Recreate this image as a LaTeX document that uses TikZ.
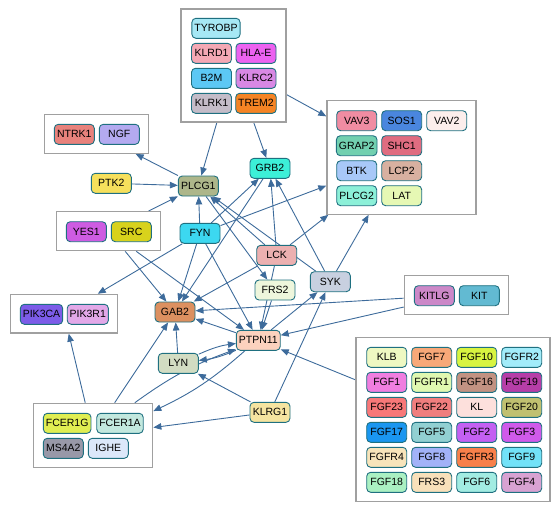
\documentclass[tikz,border=0pt]{standalone}
\usepackage{fontspec}
\setmainfont{Liberation Sans}
\usetikzlibrary{arrows.meta}
\pgfdeclarelayer{bg}
\pgfsetlayers{bg,main}
\definecolor{cEdge}{HTML}{3D6B9B}
\definecolor{cBorder}{HTML}{1F7080}
\definecolor{cGrp}{HTML}{A0A0A0}
\definecolor{cTYROBP}{HTML}{A6E8F5}
\definecolor{cKLRD1}{HTML}{F4A8B4}
\definecolor{cHLAE}{HTML}{EC62F0}
\definecolor{cB2M}{HTML}{5CC8F4}
\definecolor{cKLRC2}{HTML}{D888E4}
\definecolor{cKLRK1}{HTML}{C4BCC8}
\definecolor{cTREM2}{HTML}{F58424}
\definecolor{cNTRK1}{HTML}{E8827C}
\definecolor{cNGF}{HTML}{B4AAF0}
\definecolor{cPTK2}{HTML}{F6E05C}
\definecolor{cPLCG1}{HTML}{ADB68A}
\definecolor{cYES1}{HTML}{CE5CE2}
\definecolor{cSRC}{HTML}{D8D21C}
\definecolor{cFYN}{HTML}{3CD8F0}
\definecolor{cGRB2}{HTML}{3CF0D8}
\definecolor{cVAV3}{HTML}{F08CA2}
\definecolor{cSOS1}{HTML}{4A86DE}
\definecolor{cVAV2}{HTML}{FCEEEC}
\definecolor{cGRAP2}{HTML}{72D0B0}
\definecolor{cSHC1}{HTML}{E06C80}
\definecolor{cBTK}{HTML}{A8C8F8}
\definecolor{cLCP2}{HTML}{D8B0A0}
\definecolor{cPLCG2}{HTML}{8CF0D8}
\definecolor{cLAT}{HTML}{E6F8B4}
\definecolor{cLCK}{HTML}{ECB0B0}
\definecolor{cSYK}{HTML}{C8D0E0}
\definecolor{cFRS2}{HTML}{EEF6DC}
\definecolor{cKITLG}{HTML}{CC88C8}
\definecolor{cKIT}{HTML}{62BAD2}
\definecolor{cGAB2}{HTML}{DC9060}
\definecolor{cPTPN11}{HTML}{FCD2BE}
\definecolor{cLYN}{HTML}{D2DCC2}
\definecolor{cKLRG1}{HTML}{F5E4A0}
\definecolor{cPIK3CA}{HTML}{7C5CE8}
\definecolor{cPIK3R1}{HTML}{E2A8E8}
\definecolor{cFCER1G}{HTML}{E0EE52}
\definecolor{cFCER1A}{HTML}{C2E8DE}
\definecolor{cMS4A2}{HTML}{9898A8}
\definecolor{cIGHE}{HTML}{DCE8FA}
\definecolor{cKLB}{HTML}{EEF8C2}
\definecolor{cFGF7}{HTML}{F8A878}
\definecolor{cFGF10}{HTML}{D8F440}
\definecolor{cFGFR2}{HTML}{A2ECFA}
\definecolor{cFGF1}{HTML}{F07EE0}
\definecolor{cFGFR1}{HTML}{E0F8B0}
\definecolor{cFGF16}{HTML}{C29282}
\definecolor{cFGF19}{HTML}{B63EA8}
\definecolor{cFGF23}{HTML}{F87878}
\definecolor{cFGF22}{HTML}{F07E7E}
\definecolor{cKL}{HTML}{FDE0DC}
\definecolor{cFGF20}{HTML}{C0C070}
\definecolor{cFGF17}{HTML}{1A96F0}
\definecolor{cFGF5}{HTML}{92D0D2}
\definecolor{cFGF2}{HTML}{C460F2}
\definecolor{cFGF3}{HTML}{D05AEA}
\definecolor{cFGFR4}{HTML}{F8E4BA}
\definecolor{cFGF8}{HTML}{A2B2F8}
\definecolor{cFGFR3}{HTML}{F8804A}
\definecolor{cFGF9}{HTML}{72E2F8}
\definecolor{cFGF18}{HTML}{AAF0C2}
\definecolor{cFRS3}{HTML}{F8E0BA}
\definecolor{cFGF6}{HTML}{A2ECE2}
\definecolor{cFGF4}{HTML}{D8A2D2}
\begin{document}
\begin{tikzpicture}[x=1pt,y=-1pt,
gene/.style={rectangle,rounded corners=4pt,draw=cBorder,line width=0.9pt,
minimum width=40pt,minimum height=20pt,inner xsep=2.5pt,inner ysep=0pt,
font=\fontsize{10.5}{12}\selectfont},
grp/.style={rectangle,draw=cGrp,line width=1.2pt,fill=white},
edge/.style={draw=cEdge,line width=0.9pt,-{Triangle[length=8pt,width=6.5pt]}}]
\useasboundingbox (0,0) rectangle (556,509);
\node[grp,minimum width=105pt,minimum height=113pt](gtyrobp) at (233.5,65.5) {};
\node[grp,minimum width=104pt,minimum height=39pt](gntrk) at (96.5,133.8) {};
\node[grp,minimum width=104pt,minimum height=39pt](gsrc) at (108.7,231.2) {};
\node[grp,minimum width=149pt,minimum height=113.5pt](gvav) at (401.4,157.5) {};
\node[grp,minimum width=104pt,minimum height=38.5pt](gkit) at (456.3,295) {};
\node[grp,minimum width=106.5pt,minimum height=38.7pt](gpik) at (64,313.7) {};
\node[grp,minimum width=119.5pt,minimum height=64pt](gfcer) at (93,435.3) {};
\node[grp,minimum width=194pt,minimum height=164.5pt](gfgf) at (453,419.5) {};
\node[gene,fill=cTYROBP](tyrobp) at (216,28.3) {TYROBP};
\node[gene,fill=cKLRD1](klrd1) at (211.5,53.3) {KLRD1};
\node[gene,fill=cHLAE](hlae) at (256,53.3) {HLA-E};
\node[gene,fill=cB2M](b2m) at (211.5,78.3) {B2M};
\node[gene,fill=cKLRC2](klrc2) at (256,78.3) {KLRC2};
\node[gene,fill=cKLRK1](klrk1) at (211.5,103.3) {KLRK1};
\node[gene,fill=cTREM2](trem2) at (256,103.3) {TREM2};
\node[gene,fill=cNTRK1](ntrk1) at (74.3,134.3) {NTRK1};
\node[gene,fill=cNGF](ngf) at (119.3,134.3) {NGF};
\node[gene,fill=cPTK2](ptk2) at (111.3,183.3) {PTK2};
\node[gene,fill=cPLCG1](plcg1) at (198.3,186) {PLCG1};
\node[gene,fill=cYES1](yes1) at (86.3,231.7) {YES1};
\node[gene,fill=cSRC](src) at (131.3,231.7) {SRC};
\node[gene,fill=cFYN](fyn) at (200,233.3) {FYN};
\node[gene,fill=cGRB2](grb2) at (270,168.3) {GRB2};
\node[gene,fill=cVAV3](vav3) at (356.7,120.7) {VAV3};
\node[gene,fill=cSOS1](sos1) at (401.7,120.7) {SOS1};
\node[gene,fill=cVAV2](vav2) at (446.7,120.7) {VAV2};
\node[gene,fill=cGRAP2](grap2) at (356.7,145.7) {GRAP2};
\node[gene,fill=cSHC1](shc1) at (401.7,145.7) {SHC1};
\node[gene,fill=cBTK](btk) at (356.7,170.7) {BTK};
\node[gene,fill=cLCP2](lcp2) at (401.7,170.7) {LCP2};
\node[gene,fill=cPLCG2](plcg2) at (356.7,195.7) {PLCG2};
\node[gene,fill=cLAT](lat) at (401.7,195.7) {LAT};
\node[gene,fill=cLCK](lck) at (276.7,255.3) {LCK};
\node[gene,fill=cSYK](syk) at (330.3,281.7) {SYK};
\node[gene,fill=cFRS2](frs2) at (275,290) {FRS2};
\node[gene,fill=cKITLG](kitlg) at (434.3,295.7) {KITLG};
\node[gene,fill=cKIT](kit) at (479.3,295.7) {KIT};
\node[gene,fill=cGAB2](gab2) at (175,312) {GAB2};
\node[gene,fill=cPTPN11](ptpn11) at (258.3,340.3) {PTPN11};
\node[gene,fill=cLYN](lyn) at (178.3,363.3) {LYN};
\node[gene,fill=cKLRG1](klrg1) at (270,412.3) {KLRG1};
\node[gene,fill=cPIK3CA](pik3ca) at (41.5,314.3) {PIK3CA};
\node[gene,fill=cPIK3R1](pik3r1) at (87.8,314.3) {PIK3R1};
\node[gene,fill=cFCER1G](fcer1g) at (67.2,423.3) {FCER1G};
\node[gene,fill=cFCER1A](fcer1a) at (120,423.3) {FCER1A};
\node[gene,fill=cMS4A2](ms4a2) at (63.3,448.3) {MS4A2};
\node[gene,fill=cIGHE](ighe) at (108.3,448.3) {IGHE};
\node[gene,fill=cKLB](klb) at (386.7,357.3) {KLB};
\node[gene,fill=cFGF7](fgf7) at (431.7,357.3) {FGF7};
\node[gene,fill=cFGF10](fgf10) at (476.7,357.3) {FGF10};
\node[gene,fill=cFGFR2](fgfr2) at (521.7,357.3) {FGFR2};
\node[gene,fill=cFGF1](fgf1) at (386.7,382.3) {FGF1};
\node[gene,fill=cFGFR1](fgfr1) at (431.7,382.3) {FGFR1};
\node[gene,fill=cFGF16](fgf16) at (476.7,382.3) {FGF16};
\node[gene,fill=cFGF19](fgf19) at (521.7,382.3) {FGF19};
\node[gene,fill=cFGF23](fgf23) at (386.7,407.3) {FGF23};
\node[gene,fill=cFGF22](fgf22) at (431.7,407.3) {FGF22};
\node[gene,fill=cKL](kl) at (476.7,407.3) {KL};
\node[gene,fill=cFGF20](fgf20) at (521.7,407.3) {FGF20};
\node[gene,fill=cFGF17](fgf17) at (386.7,432.3) {FGF17};
\node[gene,fill=cFGF5](fgf5) at (431.7,432.3) {FGF5};
\node[gene,fill=cFGF2](fgf2) at (476.7,432.3) {FGF2};
\node[gene,fill=cFGF3](fgf3) at (521.7,432.3) {FGF3};
\node[gene,fill=cFGFR4](fgfr4) at (386.7,457.3) {FGFR4};
\node[gene,fill=cFGF8](fgf8) at (431.7,457.3) {FGF8};
\node[gene,fill=cFGFR3](fgfr3) at (476.7,457.3) {FGFR3};
\node[gene,fill=cFGF9](fgf9) at (521.7,457.3) {FGF9};
\node[gene,fill=cFGF18](fgf18) at (386.7,482.3) {FGF18};
\node[gene,fill=cFRS3](frs3) at (431.7,482.3) {FRS3};
\node[gene,fill=cFGF6](fgf6) at (476.7,482.3) {FGF6};
\node[gene,fill=cFGF4](fgf4) at (521.7,482.3) {FGF4};
\begin{pgfonlayer}{bg}
\draw[edge] (gtyrobp)--(plcg1);
\draw[edge] (gtyrobp)--(grb2);
\draw[edge] (gtyrobp)--(gvav);
\draw[edge] (plcg1)--(gntrk);
\draw[edge] (ptk2)--(plcg1);
\draw[edge] (gsrc)--(plcg1);
\draw[edge] (fyn)--(plcg1);
\draw[edge] (lck)--(plcg1);
\draw[edge] (syk)--(plcg1);
\draw[edge] (plcg1)--(frs2);
\draw[edge] (fyn)--(grb2);
\draw[edge] (lck)--(grb2);
\draw[edge] (syk)--(grb2);
\draw[edge] (grb2)--(gab2);
\draw[edge] (fyn)--(gvav);
\draw[edge] (lck)--(gvav);
\draw[edge] (syk)--(gvav);
\draw[edge] (fyn)--(gab2);
\draw[edge] (fyn)--(gpik);
\draw[edge] (fyn)--(ptpn11);
\draw[edge] (gsrc)--(gab2);
\draw[edge] (gsrc)--(ptpn11);
\draw[edge] (lck)--(gab2);
\draw[edge] (lck)--(ptpn11);
\draw[edge] (frs2)--(ptpn11);
\draw[edge] (gkit)--(gab2);
\draw[edge] (gkit)--(ptpn11);
\draw[edge] (gfgf)--(ptpn11);
\draw[edge] (ptpn11)--(gab2);
\draw[edge] (lyn)--(gab2);
\draw[edge] (ptpn11) to[bend left=8] (lyn);
\draw[edge] (lyn) to[bend left=8] (ptpn11);
\draw[edge] (ptpn11)--(syk);
\draw[edge] (klrg1)--(syk);
\draw[edge] (klrg1)--(lyn);
\draw[edge] (klrg1)--(gfcer);
\draw[edge] (gfcer)--(gab2);
\draw[edge] (gfcer)--(gpik);
\draw[edge] (ptpn11) to[bend left=8] (gfcer);
\draw[edge] (gfcer) to[bend left=8] (ptpn11);
\end{pgfonlayer}
\end{tikzpicture}
\end{document}
